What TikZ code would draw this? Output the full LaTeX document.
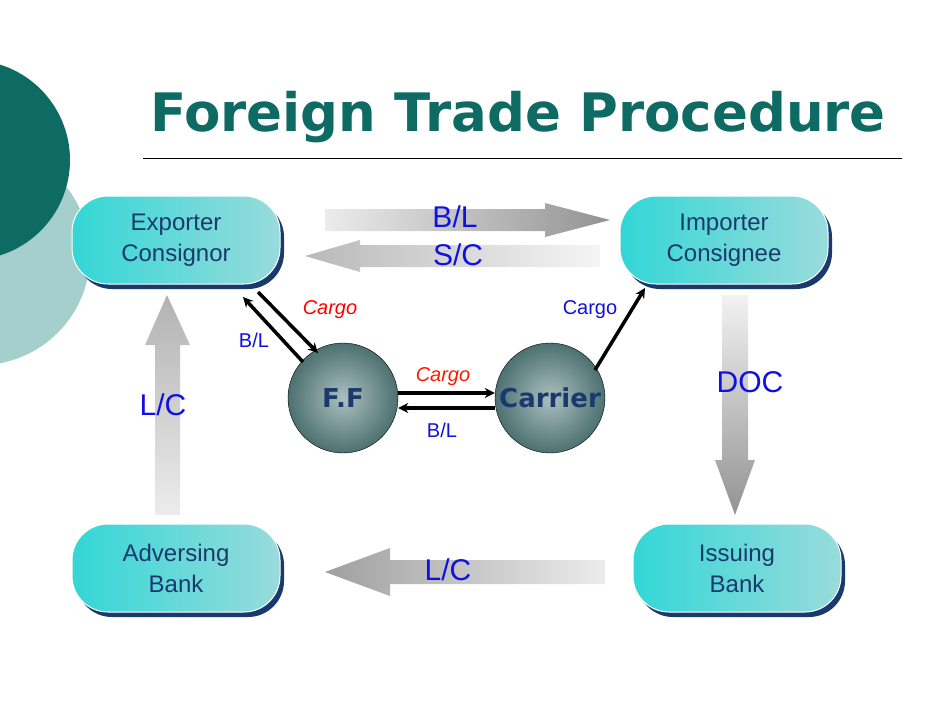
\documentclass[tikz,border=0pt]{standalone}
\usepackage{fontspec}
\setmainfont{DejaVu Sans}
\newfontfamily\arialf{Liberation Sans}
\usetikzlibrary{arrows.meta,shadows}
\definecolor{teal1}{HTML}{0E6B64}
\definecolor{teal2}{HTML}{A5CFCD}
\definecolor{navy}{HTML}{1A3A6E}
\definecolor{lblue}{HTML}{1010E0}
\begin{document}
\begin{tikzpicture}[x=1pt,y=-1pt,
 pill/.style={rounded corners=36pt,minimum width=208pt,minimum height=88pt,left color=cyan!60!teal!80,right color=cyan!30!teal!40!white,
   draw=white,line width=1pt,align=center,text=navy,font=\arialf\fontsize{24}{31}\selectfont,
   drop shadow={shadow xshift=4pt,shadow yshift=-5pt,fill=navy,opacity=1}},
 ball/.style={circle,minimum size=110pt,draw=black,inner color=teal!30!gray!50,outer color=teal!40!black!70,
   text=navy,font=\bfseries\fontsize{26}{30}\selectfont},
 sa/.style={line width=3.5pt,-{Stealth[length=10pt,width=10pt]}},
 lab/.style={text=lblue,font=\arialf\fontsize{30}{32}\selectfont},
 slab/.style={font=\arialf\fontsize{20}{22}\selectfont}]
\useasboundingbox (0,0) rectangle (950,713);
\fill[teal2] (-20,255) circle (110);
\fill[teal1] (-30,160) circle (100);
\node[font=\bfseries\fontsize{53}{56}\selectfont,text=teal1] (title) at (518,117) {Foreign Trade Procedure};
\draw[line width=0.8pt] (143,158) coordinate (l1) -- (902,158) coordinate (l2);
% big arrows
\shade[left color=gray!15,right color=gray!85] (325,209) -- (545,209) -- (545,203) -- (610,220) -- (545,237) -- (545,231) -- (325,231) -- cycle;
\shade[left color=gray!55,right color=gray!8] (600,245) -- (360,245) -- (360,240) -- (305,256) -- (360,272) -- (360,267) -- (600,267) -- cycle;
\shade[top color=gray!60,bottom color=gray!15] (155,515) -- (155,345) -- (145,345) -- (167,295) -- (190,345) -- (180,345) -- (180,515) -- cycle;
\shade[top color=gray!10,bottom color=gray!85] (722,295) -- (748,295) -- (748,460) -- (755,460) -- (735,515) -- (715,460) -- (722,460) -- cycle;
\shade[left color=gray!75,right color=gray!15] (605,560) -- (390,560) -- (390,548) -- (325,572) -- (390,596) -- (390,584) -- (605,584) -- cycle;
\node[lab] at (455,217) {B/L};
\node[lab] at (458,255) {S/C};
\node[lab] at (163,405) {L/C};
\node[lab] at (750,382) {DOC};
\node[lab] at (448,570) {L/C};
% pills
\node[pill] (exp) at (176,240) {Exporter\\Consignor};
\node[pill] (imp) at (724,240) {Importer\\Consignee};
\node[pill] (adv) at (176,568) {Adversing\\Bank};
\node[pill] (iss) at (737,568) {Issuing\\Bank};
% balls
\node[ball] (ff) at (343,398) {F.F};
\node[ball,inner sep=0pt] (car) at (550,398) {Carrier};
% small arrows
\coordinate (e1) at (258,292); \coordinate (f1) at (318,353);
\coordinate (f2) at (303,362); \coordinate (e2) at (243,297);
\coordinate (c1) at (595,370); \coordinate (i1) at (645,288);
\draw[sa] (e1) -- (f1);
\draw[sa] (f2) -- (e2);
\draw[sa] (ff.east |- 0,393) -- (car.west |- 0,393);
\draw[sa] (car.west |- 0,408) -- (ff.east |- 0,408);
\draw[sa] (c1) -- (i1);
\node[slab,text=red,font=\arialf\itshape\fontsize{20}{22}\selectfont] at (330,310) {Cargo};
\node[slab,text=lblue] at (254,340) {B/L};
\node[slab,text=red!80!orange,font=\arialf\itshape\fontsize{20}{22}\selectfont] at (443,377) {Cargo};
\node[slab,text=lblue] at (442,430) {B/L};
\node[slab,text=lblue] at (590,310) {Cargo};
\end{tikzpicture}
\end{document}
